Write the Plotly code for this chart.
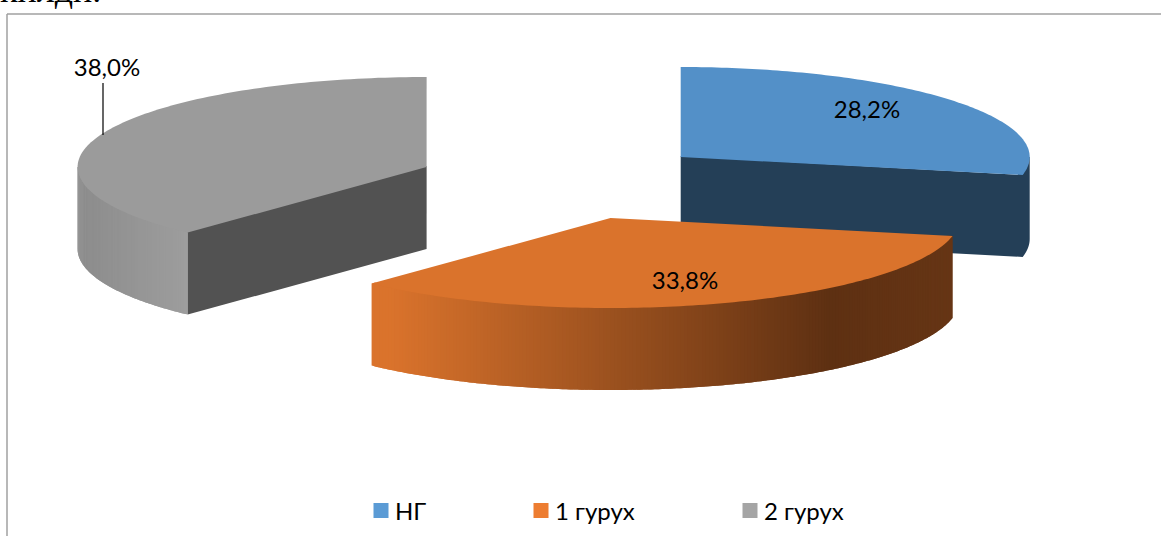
import math
import plotly.graph_objects as go

categories = ["НГ", "1 гурух", "2 гурух"]
values = [28.2, 33.8, 38.0]
legend_colors = ["#5B9BD5", "#ED7D31", "#A5A5A5"]
top_colors = ["#5390C8", "#DA732C", "#9B9B9B"]
wall_colors = ["#243F57", None, "#525252"]

W, H = 1161, 536
RX, RY, DEPTH = 349, 90, 82
CENTERS = [(680.7, 157), (610.5, 218), (426.6, 167)]
FONT = "Lato, 'Noto Sans', sans-serif"


def rim(c, t, k=1.0):
    return c[0] + k * RX * math.sin(t), c[1] - k * RY * math.cos(t)


def arc(c, t0, t1, n=120, k=1.0):
    return [rim(c, t0 + (t1 - t0) * i / n, k) for i in range(n + 1)]


def low(p):
    return p[0], p[1] + DEPTH


def lerp(a, b, f):
    return "rgb(%d,%d,%d)" % tuple(round(a[i] + (b[i] - a[i]) * f) for i in range(3))


def poly(pts, color):
    xs = [p[0] for p in pts] + [pts[0][0]]
    ys = [p[1] for p in pts] + [pts[0][1]]
    return go.Scatter(x=xs, y=ys, mode="lines", fill="toself", fillcolor=color,
                      line=dict(color=color, width=0, simplify=False), hoverinfo="skip", showlegend=False)


fig = go.Figure()

# cumulative angles clockwise from 12 o'clock
total = sum(values)
angles = []
acc = 0
for v in values:
    angles.append((acc / total * 2 * math.pi, (acc + v) / total * 2 * math.pi))
    acc += v

INNER = 0.985  # side pieces run a little under the top face, so that no seam shows


def side_strips(c, t0, t1, color_at, n=90):
    # each strip reaches over the next one, so that no seams show between them
    for i in range(n):
        a = t0 + (t1 - t0) * i / n
        b = t0 + (t1 - t0) * (i + 1) / n
        e = t0 + (t1 - t0) * min(i + 2, n) / n
        pts = [rim(c, a), rim(c, a, INNER), rim(c, b, INNER), rim(c, e, INNER), rim(c, e),
               low(rim(c, e)), low(rim(c, b)), low(rim(c, a))]
        fig.add_trace(poly(pts, color_at((rim(c, a)[0] + rim(c, b)[0]) / 2)))


# grey slice (back left)
c = CENTERS[2]
t0, t1 = angles[2]
side_strips(c, t0, 1.5 * math.pi, lambda x: lerp((0x9D, 0x9D, 0x9D), (0x8C, 0x8C, 0x8C), (187 - x) / 109))
p = rim(c, t0)
fig.add_trace(poly([(c[0], c[1] - 1), (p[0], p[1] - 1), low(p), low(c)], wall_colors[2]))
fig.add_trace(poly([c] + arc(c, t0, t1), top_colors[2]))

# blue slice (back right): the cut face and the bit of rim beyond the right-most point
c = CENTERS[0]
t0, t1 = angles[0]
fig.add_trace(poly([(c[0], c[1] - 1)] + arc(c, t1, math.pi / 2, 12, INNER) + [rim(c, math.pi / 2)]
                   + [low(q) for q in arc(c, math.pi / 2, t1, 12)] + [low(c)], wall_colors[0]))
fig.add_trace(poly([c] + arc(c, t0, t1), top_colors[0]))

# orange slice (front)
c = CENTERS[1]
t0, t1 = angles[1]


def orange_at(x):
    if x < 390:
        return lerp((0xDA, 0x73, 0x2C), (0xDA, 0x73, 0x2C), 0)
    if x < 830:
        return lerp((0xDA, 0x73, 0x2C), (0x5E, 0x30, 0x12), (x - 390) / 440)
    return lerp((0x5E, 0x30, 0x12), (0x66, 0x35, 0x15), (x - 830) / 121)


side_strips(c, t1, t0, orange_at, n=200)
fig.add_trace(poly([c] + arc(c, t0, t1), top_colors[1]))

# data labels
labels = [f"{v:.1f}".replace(".", ",") + "%" for v in values]
LABEL_POS = [(867, 112), (685, 283), (107, 70)]
fig.add_trace(go.Scatter(x=[p[0] for p in LABEL_POS], y=[p[1] for p in LABEL_POS], mode="text",
                         text=labels, textfont=dict(family=FONT, size=24, color="#000000"),
                         textposition="middle center", showlegend=False, hoverinfo="skip"))
# leader line
fig.add_trace(go.Scatter(x=[103, 103], y=[83, 135], mode="lines", line=dict(color="#000000", width=1.2),
                         showlegend=False, hoverinfo="skip"))

# legends: one per entry so each sits at its own spot
LEGEND_X = [355, 515, 724]
LEGEND_Y = 511
layout_legends = {}
for i, name in enumerate(categories):
    key = "legend" if i == 0 else f"legend{i + 1}"
    fig.add_trace(go.Scatter(x=[None], y=[None], mode="markers", name=name,
                             marker=dict(symbol="square", size=15, color=legend_colors[i], angle=90, standoff=6),
                             legend=key, showlegend=True))
    layout_legends[key] = dict(x=LEGEND_X[i] / W, y=1 - LEGEND_Y / H, xanchor="left", yanchor="middle",
                               bgcolor="rgba(0,0,0,0)", font=dict(family=FONT, size=24, color="#000000"),
                               itemwidth=30)

fig.update_layout(
    width=W, height=H, margin=dict(l=0, r=0, t=0, b=0), autosize=False,
    paper_bgcolor="#FFFFFF", plot_bgcolor="#FFFFFF",
    xaxis=dict(range=[0, W], visible=False, fixedrange=True),
    yaxis=dict(range=[H, 0], visible=False, fixedrange=True),
    shapes=[
        dict(type="line", xref="x", yref="y", x0=7, x1=W, y0=14, y1=14, line=dict(color="#A0A0A0", width=1.5)),
        dict(type="line", xref="x", yref="y", x0=7, x1=7, y0=14, y1=H, line=dict(color="#A0A0A0", width=1.5)),
    ],
    annotations=[dict(text="килди.", x=0, y=0, xref="x", yref="y", xanchor="left", yanchor="bottom",
                      xshift=-2, yshift=-12, showarrow=False,
                      font=dict(family="Liberation Serif", size=36, color="#000000"))],
    **layout_legends,
)
fig.write_html("out.html", config={"displayModeBar": False},
               post_script="document.body.style.margin='0';document.body.style.overflow='hidden';")
